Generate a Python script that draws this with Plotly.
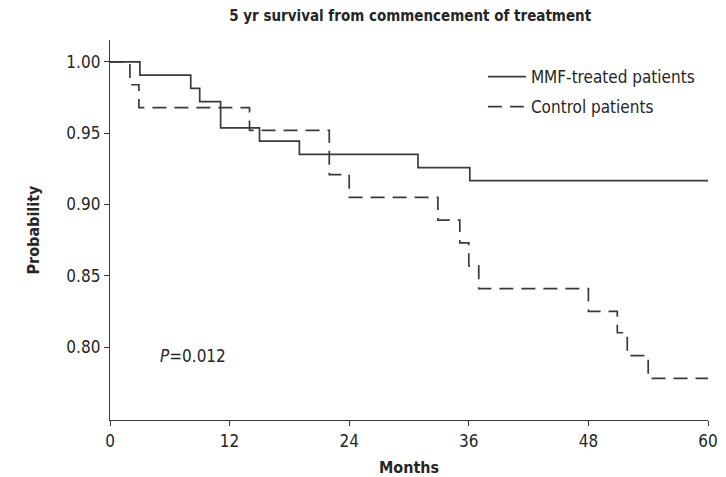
import plotly.graph_objects as go

# Kaplan-Meier step estimates (months, survival probability)
mmf_months = [0, 3.0, 8.1, 9.0, 11.1, 15.0, 19.0, 30.9, 36.1, 60]
mmf_surv = [1.0, 0.9907, 0.9815, 0.9722, 0.9537, 0.9444, 0.9352, 0.9259, 0.9167, 0.9167]

ctrl_months = [0, 2.0, 2.9, 14.0, 22.0, 24.0, 32.9, 35.1, 36.0, 37.0, 48.0, 50.9, 51.9, 54.0, 60]
ctrl_surv = [1.0, 0.984, 0.968, 0.952, 0.921, 0.905, 0.889, 0.873, 0.857, 0.841,
             0.825, 0.810, 0.794, 0.778, 0.778]

x_ticks = [0, 12, 24, 36, 48, 60]
y_ticks = [0.80, 0.85, 0.90, 0.95, 1.00]

FONT = "Liberation Sans Narrow, Arial Narrow, DejaVu Sans Condensed, sans-serif"
INK = "#262626"
LINE = "#3a3a3a"

fig = go.Figure()
fig.add_trace(go.Scatter(
    x=mmf_months, y=mmf_surv, mode="lines", line_shape="hv",
    line=dict(color=LINE, width=1.7), name="MMF-treated patients",
    legendgroup="mmf",
))
fig.add_trace(go.Scatter(
    x=ctrl_months, y=ctrl_surv, mode="lines", line_shape="hv",
    line=dict(color=LINE, width=1.7, dash="14px,8px"), name="Control patients",
    legendgroup="ctrl",
))

fig.add_annotation(
    x=4.8, y=0.7935, xref="x", yref="y", xanchor="left", yanchor="middle",
    text="<i>P</i>=0.012", showarrow=False,
    font=dict(family=FONT, size=17, color=INK),
)

fig.update_layout(
    width=726, height=477,
    margin=dict(l=110, r=18, t=40, b=57),
    paper_bgcolor="white", plot_bgcolor="white",
    font=dict(family=FONT, size=16, color=INK),
    title=dict(
        text="<b>5 yr survival from commencement of treatment</b>",
        x=0.565, xanchor="center", y=0.968, yanchor="middle",
        font=dict(family=FONT, size=15, color=INK),
    ),
    showlegend=True,
    legend=dict(
        x=0.6236, y=0.95, xanchor="left", yanchor="top",
        bgcolor="rgba(0,0,0,0)", borderwidth=0,
        tracegroupgap=5, itemwidth=38,
        font=dict(family=FONT, size=17, color=INK),
    ),
    xaxis=dict(
        range=[0, 60], tickvals=x_ticks, ticktext=[str(t) for t in x_ticks],
        showline=True, linecolor=LINE, linewidth=1.4,
        ticks="outside", ticklen=5, tickcolor=LINE, tickwidth=1.2,
        showgrid=False, zeroline=False, automargin=False,
        tickfont=dict(family=FONT, size=17, color=INK),
        title=dict(text="<b>Months</b>", standoff=12,
                   font=dict(family=FONT, size=16, color=INK)),
    ),
    yaxis=dict(
        range=[0.7488, 1.0154], tickvals=y_ticks,
        ticktext=[f"{v:.2f}" for v in y_ticks],
        showline=True, linecolor=LINE, linewidth=1.4,
        ticks="outside", ticklen=5, tickcolor=LINE, tickwidth=1.2,
        showgrid=False, zeroline=False, automargin=False,
        tickfont=dict(family=FONT, size=17, color=INK),
        title=dict(text="<b>Probability</b>", standoff=22,
                   font=dict(family=FONT, size=16, color=INK)),
    ),
)

fig.write_html("out.html")
